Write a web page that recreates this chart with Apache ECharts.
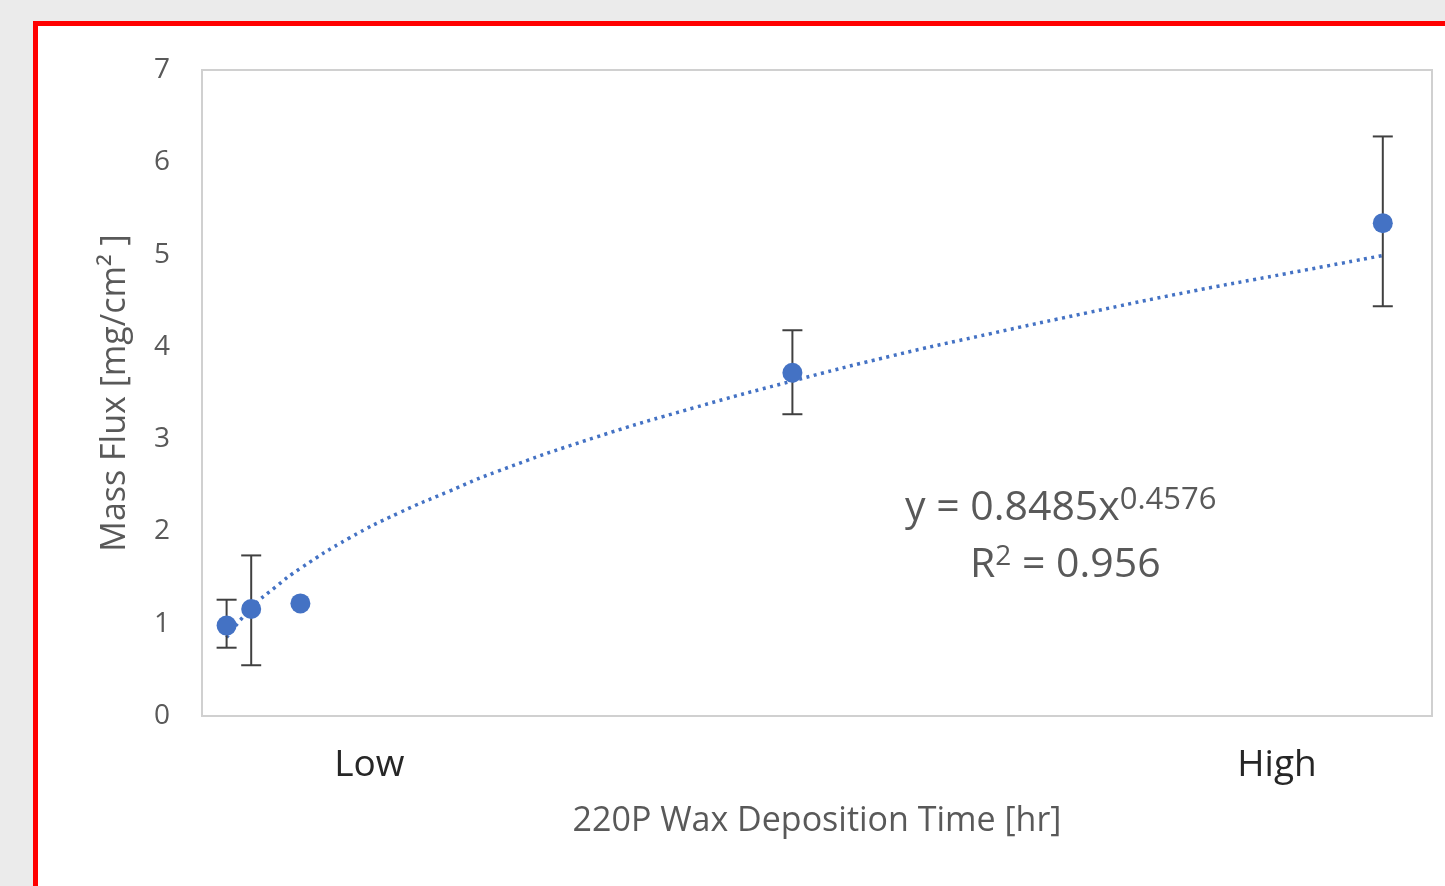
<!DOCTYPE html>
<html>
<head>
<meta charset="utf-8">
<title>Mass Flux vs Wax Deposition Time</title>
<script src="https://cdn.jsdelivr.net/npm/echarts@6/dist/echarts.min.js"></script>
<style>
  html, body { margin: 0; padding: 0; background: #ebebeb; overflow: hidden; }
  #frame {
    position: absolute; left: 33px; top: 21px; width: 1440px; height: 900px;
    border: 5px solid #ff0000; background: #ffffff;
  }
  #main { position: absolute; left: 0; top: 0; width: 1445px; height: 886px; }
</style>
</head>
<body>
<div id="frame"></div>
<div id="main"></div>
<script type="text/javascript">
// measured points
var hours    = [1, 2, 4, 24, 48];
var massFlux = [0.98, 1.16, 1.22, 3.72, 5.34];
var errLow   = [0.74, 0.55, 1.22, 3.27, 4.44];
var errHigh  = [1.26, 1.74, 1.22, 4.18, 6.28];

// power trend line
var trendX = [1, 2, 3, 4, 6, 8, 10, 12, 16, 20, 24, 28, 32, 36, 40, 44, 48];
var trendY = [0.85, 1.17, 1.40, 1.60, 1.93, 2.20, 2.43, 2.65, 3.02, 3.34, 3.63, 3.90, 4.14, 4.37, 4.59, 4.79, 4.99];

// x axis only carries two text labels
var xTickValues = [6.8, 43.7];
var xTickLabels = ['Low', 'High'];
var yTicks = [0, 1, 2, 3, 4, 5, 6, 7];

var fontName = '"Open Sans", sans-serif';
var blue = '#4472c4';

var chart = echarts.init(document.getElementById('main'));

var option = {
    backgroundColor: 'transparent',
    animation: false,
    grid: {
        left: 202, top: 70, right: 13, bottom: 170,
        show: true, borderColor: '#d0d0d0', borderWidth: 2
    },
    xAxis: {
        type: 'value', min: 0, max: 50,
        name: '220P Wax Deposition Time [hr]',
        nameLocation: 'middle', nameGap: 88,
        nameTextStyle: { color: '#595959', fontSize: 34, fontFamily: fontName },
        axisLine: { show: false },
        axisTick: { show: false },
        splitLine: { show: false },
        axisLabel: {
            customValues: xTickValues,
            margin: 31,
            color: '#262626', fontSize: 37, fontFamily: fontName,
            formatter: function (v) {
                var i = xTickValues.indexOf(v);
                return i >= 0 ? xTickLabels[i] : '';
            }
        }
    },
    yAxis: {
        type: 'value', min: 0, max: 7, interval: 1,
        name: 'Mass Flux [mg/cm\u00b2 ]',
        nameLocation: 'middle', nameGap: 70, nameRotate: 90,
        nameTextStyle: { color: '#595959', fontSize: 34, fontFamily: fontName },
        axisLine: { show: false },
        axisTick: { show: false },
        splitLine: { show: false },
        axisLabel: {
            margin: 32, color: '#595959', fontSize: 28, fontFamily: fontName,
            formatter: function (v) { return yTicks.indexOf(v) >= 0 ? String(v) : ''; }
        }
    },
    series: [
        {
            name: 'trend', type: 'line', smooth: true, symbol: 'none',
            data: trendX.map(function (x, i) { return [x, trendY[i]]; }),
            lineStyle: { color: blue, width: 3.5, type: [3, 4.5] },
            z: 2
        },
        {
            name: 'error', type: 'custom',
            data: hours.map(function (x, i) { return [x, errLow[i], errHigh[i]]; }),
            renderItem: function (params, api) {
                var lo = api.coord([api.value(0), api.value(1)]);
                var hi = api.coord([api.value(0), api.value(2)]);
                if (Math.abs(hi[1] - lo[1]) < 1) return null;
                var cap = 10;
                var st = { stroke: '#404040', lineWidth: 2 };
                return {
                    type: 'group',
                    children: [
                        { type: 'line', shape: { x1: lo[0], y1: lo[1], x2: hi[0], y2: hi[1] }, style: st },
                        { type: 'line', shape: { x1: lo[0] - cap, y1: lo[1], x2: lo[0] + cap, y2: lo[1] }, style: st },
                        { type: 'line', shape: { x1: hi[0] - cap, y1: hi[1], x2: hi[0] + cap, y2: hi[1] }, style: st }
                    ]
                };
            },
            z: 3
        },
        {
            name: 'mass flux', type: 'scatter',
            data: hours.map(function (x, i) { return [x, massFlux[i]]; }),
            symbol: 'circle', symbolSize: 20,
            itemStyle: { color: blue, opacity: 1 },
            z: 4
        }
    ],
    graphic: [
        {
            type: 'text', left: 905, top: 485,
            style: {
                rich: {
                    b: { fontSize: 41, fontFamily: fontName, fill: '#595959' },
                    s: { fontSize: 31, fontFamily: fontName, fill: '#595959', verticalAlign: 'top', padding: [0, 0, 16, 0] }
                },
                text: '{b|y = 0.8485x}{s|0.4576}'
            }
        },
        {
            type: 'text', left: 970, top: 543,
            style: {
                rich: {
                    b: { fontSize: 41, fontFamily: fontName, fill: '#595959' },
                    s: { fontSize: 28, fontFamily: fontName, fill: '#595959', padding: [0, 0, 16, 0] }
                },
                text: '{b|R}{s|2}{b| = 0.956}'
            }
        }
    ]
};

chart.setOption(option);
</script>
</body>
</html>
